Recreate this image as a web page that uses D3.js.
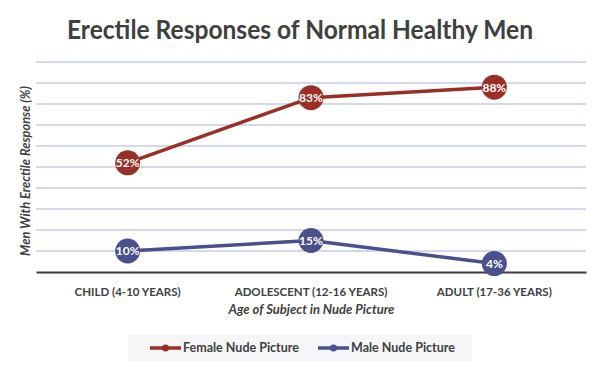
<!DOCTYPE html>
<html>
<head>
<meta charset="utf-8">
<script src="https://cdn.jsdelivr.net/npm/d3@7"></script>
<style>
  html, body { margin: 0; padding: 0; background: #ffffff; }
  svg { display: block; font-family: Lato, "Open Sans", sans-serif; }
</style>
</head>
<body>
<svg id="chart" width="600" height="368"></svg>
<script>
const categories = ["CHILD (4-10 YEARS)", "ADOLESCENT (12-16 YEARS)", "ADULT (17-36 YEARS)"];
const femaleValues = [52, 83, 88];
const maleValues = [10, 15, 4];
const seriesNames = ["Female Nude Picture", "Male Nude Picture"];
const gridTicks = [10, 20, 30, 40, 50, 60, 70, 80, 90, 100];
const titleText = "Erectile Responses of Normal Healthy Men";
const xTitle = "Age of Subject in Nude Picture";
const yTitle = "Men With Erectile Response (%)";

const colors = ["#9b2f27", "#48508e"];
const textColor = "#404040";

const svg = d3.select("#chart");
const plot = { left: 36, right: 586, top: 62, bottom: 272 };

const x = d3.scaleBand().domain(categories).range([plot.left, plot.right]);
const y = d3.scaleLinear().domain([0, 100]).range([plot.bottom, plot.top]);

// title
svg.append("text")
  .attr("x", 300).attr("y", 39)
  .attr("text-anchor", "middle")
  .attr("font-size", 26).attr("font-weight", 700)
  .attr("fill", textColor)
  .attr("textLength", 466).attr("lengthAdjust", "spacingAndGlyphs")
  .text(titleText);

// gridlines
svg.append("g").selectAll("line").data(gridTicks).join("line")
  .attr("x1", plot.left).attr("x2", plot.right)
  .attr("y1", d => y(d)).attr("y2", d => y(d))
  .attr("stroke", "#c6cbea").attr("stroke-width", 1.6);

// x axis
const xAxis = svg.append("g")
  .attr("transform", `translate(0,${plot.bottom})`)
  .call(d3.axisBottom(x).tickSize(0).tickPadding(16));
xAxis.select(".domain").attr("stroke", "#3a3a3a").attr("stroke-width", 2.2);
xAxis.selectAll("text")
  .attr("font-family", "Lato, sans-serif")
  .attr("font-size", 11.5).attr("font-weight", 700)
  .attr("fill", textColor);

// axis titles
svg.append("text")
  .attr("x", (plot.left + plot.right) / 2 + 0.5).attr("y", 314)
  .attr("text-anchor", "middle")
  .attr("font-size", 13).attr("font-style", "italic").attr("font-weight", 700)
  .attr("fill", textColor)
  .text(xTitle);

svg.append("text")
  .attr("transform", `translate(30,${(plot.top + plot.bottom) / 2 + 4}) rotate(-90)`)
  .attr("text-anchor", "middle")
  .attr("font-size", 12.8).attr("font-style", "italic").attr("font-weight", 700)
  .attr("fill", textColor)
  .text(yTitle);

// series
const series = [femaleValues, maleValues];
const line = d3.line()
  .x((d, i) => x(categories[i]) + x.bandwidth() / 2)
  .y(d => y(d));

series.forEach((vals, si) => {
  const g = svg.append("g");
  g.append("path").datum(vals)
    .attr("d", line)
    .attr("fill", "none")
    .attr("stroke", colors[si])
    .attr("stroke-width", 3.5);
  g.selectAll("circle").data(vals).join("circle")
    .attr("cx", (d, i) => x(categories[i]) + x.bandwidth() / 2)
    .attr("cy", d => y(d))
    .attr("r", 12.5)
    .attr("fill", colors[si]);
  g.selectAll("text").data(vals).join("text")
    .attr("x", (d, i) => x(categories[i]) + x.bandwidth() / 2)
    .attr("y", d => y(d))
    .attr("dy", "0.36em")
    .attr("text-anchor", "middle")
    .attr("font-size", 12).attr("font-weight", 700)
    .attr("fill", "#ffffff")
    .text(d => d + "%");
});

// legend
svg.append("rect")
  .attr("x", 128).attr("y", 335).attr("width", 344).attr("height", 26)
  .attr("fill", "#f6f6f8");

const legendItems = [
  { x: 150, textX: 183 },
  { x: 318, textX: 351 }
];
legendItems.forEach((it, i) => {
  const g = svg.append("g");
  g.append("line")
    .attr("x1", it.x).attr("x2", it.x + 31)
    .attr("y1", 348).attr("y2", 348)
    .attr("stroke", colors[i]).attr("stroke-width", 3.5);
  g.append("circle").attr("cx", it.x + 15.5).attr("cy", 348).attr("r", 3.5).attr("fill", colors[i]);
  g.append("text")
    .attr("x", it.textX).attr("y", 348).attr("dy", "0.35em")
    .attr("font-size", 12.5).attr("font-weight", 700)
    .attr("fill", textColor)
    .text(seriesNames[i]);
});
</script>
</body>
</html>
